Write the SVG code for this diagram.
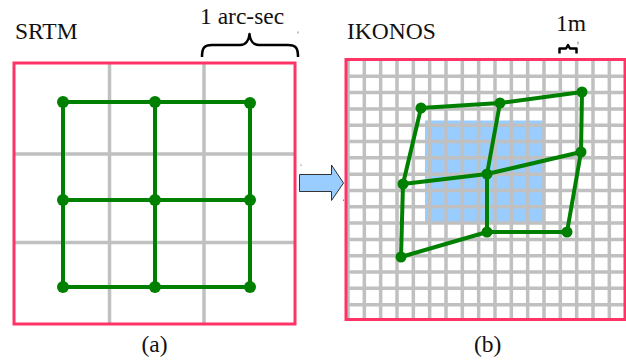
<svg xmlns="http://www.w3.org/2000/svg" width="626" height="362" viewBox="0 0 626 362">
<style>
.t{font-family:"Liberation Serif","Times New Roman",Times,serif;font-size:23.5px;fill:#111}
.grid{stroke:#c0c0c0;stroke-width:3.5;fill:none}
.frame{fill:none;stroke:#ff3366;stroke-width:3}
.mesh{stroke:#008000;stroke-width:4;fill:none;stroke-linejoin:round}
.dot{fill:#008000}
.brace{fill:none;stroke:#000;stroke-width:2.5;stroke-linejoin:round}
.speck{fill:#888}
</style>
<rect width="626" height="362" fill="#fff"/>

<g id="panel-a">
  <path class="grid" d="M109.5,63V324M204,63V324M14,154H295M14,242.5H295"/>
  <rect class="frame" x="14" y="63" width="281" height="261"/>
  <text class="t" x="15" y="39">SRTM</text>
  <text class="t" x="200" y="24">1 arc-sec</text>
  <path class="brace" d="M202,57 C202,48 204,45 212,45 L240,45 C246,45 249,40 249.5,34 C250,40 253,45 259,45 L288,45 C296,45 298,48 298,57"/>
  <text class="t" x="141.5" y="352">(a)</text>
</g>

<g id="panel-b">
  <rect x="425" y="120.5" width="119" height="101.5" fill="#99ccff"/>
  <path class="grid" d="M348,60V320M364.33,60V320M380.66,60V320M397,60V320M413.33,60V320M429.66,60V320M446,60V320M462.33,60V320M478.66,60V320M495,60V320M511.33,60V320M527.66,60V320M544,60V320M560.33,60V320M576.66,60V320M593,60V320M609.33,60V320
  M346,76.31H625M346,92.62H625M346,108.93H625M346,125.24H625M346,141.55H625M346,157.86H625M346,174.17H625M346,190.48H625M346,206.79H625M346,223.1H625M346,239.41H625M346,255.72H625M346,272.03H625M346,288.34H625M346,304.65H625"/>
  <rect class="frame" x="346" y="59.5" width="279" height="260"/>
  <text class="t" x="347" y="39">IKONOS</text>
  <text class="t" x="556" y="31">1m</text>
  <path class="brace" d="M559.5,53.5 L559.5,48.5 L566,48.5 L568,45 L570,48.5 L576.5,48.5 L576.5,53.5"/>
  <text class="t" x="474" y="352">(b)</text>
</g>

<g id="connectors">
  <path class="mesh" d="M63,102H250M63,200H250M63,287H250M63,102V287M155,102V287M250,102V287"/>
  <path class="mesh" d="M421,108L500,103L582,92M403,184L487,174L581,152M401,257L487,232L567,232M421,108L403,184L401,257M500,103L487,174L487,232M582,92L581,152L567,232"/>
</g>

<g id="arrow">
  <polygon points="299.5,174.5 331.5,174.5 331.5,165 343.5,183 331.5,200.5 331.5,191.5 299.5,191.5" fill="#99ccff" stroke="#333" stroke-width="1"/>
</g>

<g id="node-a1"><circle class="dot" cx="63" cy="102" r="6"/></g>
<g id="node-a2"><circle class="dot" cx="155" cy="102" r="6"/></g>
<g id="node-a3"><circle class="dot" cx="250" cy="103" r="6"/></g>
<g id="node-a4"><circle class="dot" cx="63" cy="200" r="6"/></g>
<g id="node-a5"><circle class="dot" cx="155" cy="200" r="6"/></g>
<g id="node-a6"><circle class="dot" cx="250" cy="200" r="6"/></g>
<g id="node-a7"><circle class="dot" cx="63" cy="287" r="6"/></g>
<g id="node-a8"><circle class="dot" cx="155" cy="287" r="6"/></g>
<g id="node-a9"><circle class="dot" cx="250" cy="287" r="6"/></g>

<g id="node-b1"><circle class="dot" cx="421" cy="108" r="5.5"/></g>
<g id="node-b2"><circle class="dot" cx="500" cy="103" r="5.5"/></g>
<g id="node-b3"><circle class="dot" cx="582" cy="92" r="5.5"/></g>
<g id="node-b4"><circle class="dot" cx="403" cy="184" r="5.5"/></g>
<g id="node-b5"><circle class="dot" cx="487" cy="174" r="5.5"/></g>
<g id="node-b6"><circle class="dot" cx="581" cy="152" r="5.5"/></g>
<g id="node-b7"><circle class="dot" cx="401" cy="257" r="5.5"/></g>
<g id="node-b8"><circle class="dot" cx="487" cy="232" r="5.5"/></g>
<g id="node-b9"><circle class="dot" cx="567" cy="232" r="5.5"/></g>

<g id="specks">
  <rect class="speck" x="297.5" y="31.5" width="1" height="2"/>
  <rect class="speck" x="300.5" y="164.5" width="1" height="1.5"/>
  <rect class="speck" x="343" y="199.5" width="1" height="1.5"/>
  <rect class="speck" x="577.5" y="41.5" width="1" height="3"/>
</g>
</svg>
